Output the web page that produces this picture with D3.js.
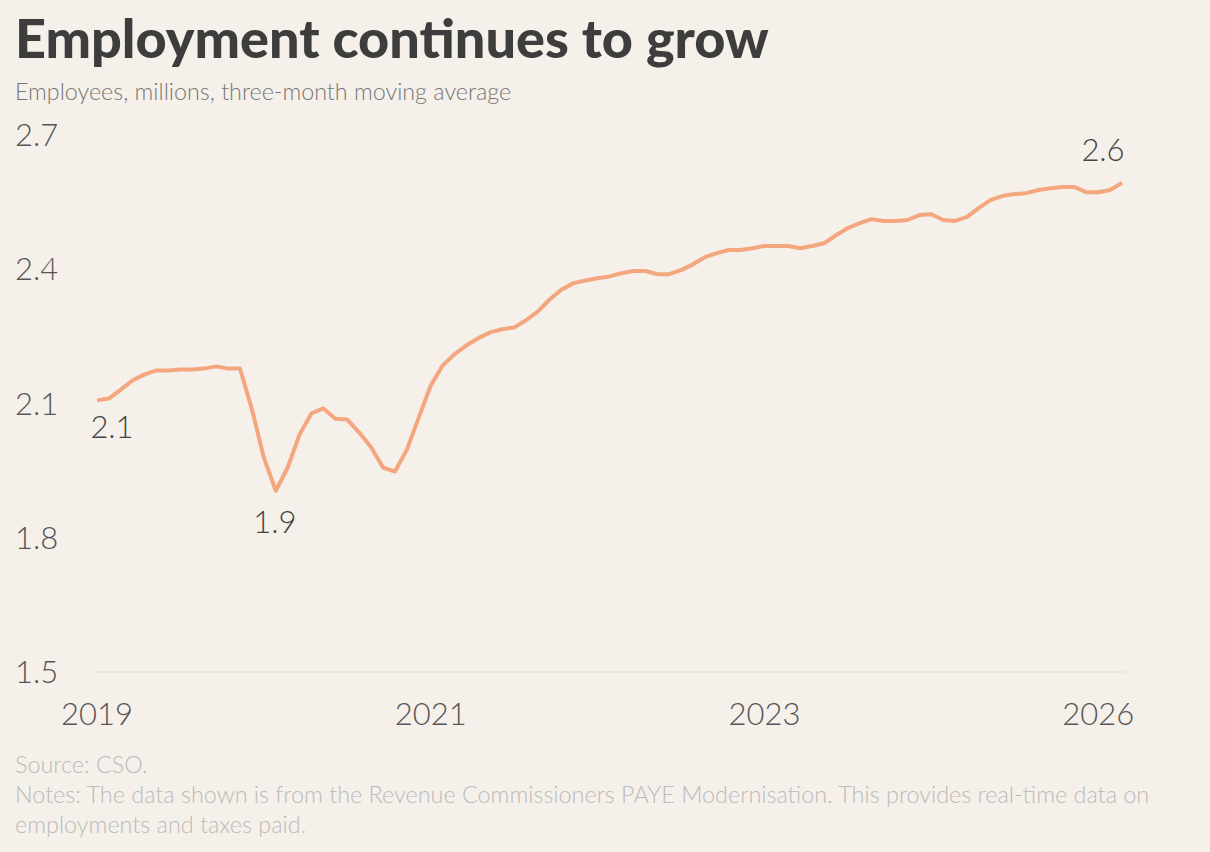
<!DOCTYPE html>
<html><head><meta charset="utf-8">
<script src="https://cdn.jsdelivr.net/npm/d3@7"></script>
<style>body{margin:0;background:#f5f0ea;}svg{display:block;}</style>
</head><body>
<svg id="c" width="1210" height="852"></svg>
<script>
const values = [2.107,2.111,2.131,2.152,2.165,2.174,2.174,2.176,2.176,2.178,2.183,2.178,2.178,2.087,1.979,1.905,1.957,2.031,2.078,2.089,2.066,2.064,2.035,2.002,1.957,1.948,1.997,2.069,2.140,2.185,2.210,2.230,2.246,2.259,2.266,2.270,2.286,2.306,2.333,2.355,2.369,2.375,2.380,2.384,2.391,2.396,2.396,2.389,2.389,2.398,2.411,2.427,2.436,2.443,2.443,2.447,2.452,2.452,2.452,2.447,2.452,2.458,2.476,2.492,2.503,2.512,2.508,2.508,2.510,2.521,2.523,2.510,2.508,2.517,2.537,2.555,2.564,2.568,2.570,2.577,2.581,2.584,2.584,2.572,2.572,2.577,2.593];
const xTickIdx = [0,28,56,84];
const xTickLabels = ["2019","2021","2023","2026"];
const yTicks = [1.5,1.8,2.1,2.4,2.7];
const annotations = [{i:0,label:"2.1",dx:15,dy:28},{i:15,label:"1.9",dx:-1,dy:32},{i:86,label:"2.6",dx:-19,dy:-32}];

const svg = d3.select("#c");
svg.append("rect").attr("width",1210).attr("height",852).attr("fill","#f5f0ea");
const x = d3.scaleLinear().domain([0,values.length-1]).range([97,1122]);
const y = d3.scaleLinear().domain([1.5,2.7]).range([672,135]);
const F = "Lato, 'Open Sans', sans-serif";

svg.append("text").attr("x",15).attr("y",58).attr("font-family",F).attr("font-weight",900)
  .attr("font-size",54).attr("fill","#3d3d3d").text("Employment continues to grow");
svg.append("text").attr("x",15).attr("y",100).attr("font-family",F).attr("font-weight",300)
  .attr("font-size",23.3).attr("fill","#777").text("Employees, millions, three-month moving average");

svg.append("line").attr("x1",95).attr("x2",1125).attr("y1",y(1.5)).attr("y2",y(1.5)).attr("stroke","#ddd").attr("stroke-width",1);

svg.selectAll(".yt").data(yTicks).enter().append("text").attr("x",15).attr("y",d=>y(d)+11)
  .attr("font-family",F).attr("font-weight",300).attr("font-size",31).attr("fill","#555").text(d=>d.toFixed(1));
svg.selectAll(".xt").data(xTickIdx).enter().append("text").attr("x",d=>x(d)).attr("y",725)
  .attr("text-anchor","middle").attr("font-family",F).attr("font-weight",300).attr("font-size",31).attr("fill","#555")
  .text((d,i)=>xTickLabels[i]);

svg.append("path").datum(values).attr("fill","none").attr("stroke","#f4a77e").attr("stroke-width",4)
  .attr("stroke-linejoin","round").attr("d",d3.line().x((d,i)=>x(i)).y(d=>y(d)));

svg.selectAll(".an").data(annotations).enter().append("text").attr("x",d=>x(d.i)+d.dx).attr("y",d=>y(values[d.i])+d.dy+10)
  .attr("text-anchor","middle").attr("font-family",F).attr("font-weight",300).attr("font-size",31).attr("fill","#444").text(d=>d.label);

const notes = ["Source: CSO.","Notes: The data shown is from the Revenue Commissioners PAYE Modernisation. This provides real-time data on","employments and taxes paid."];
svg.selectAll(".nt").data(notes).enter().append("text").attr("x",15).attr("y",(d,i)=>773+i*30)
  .attr("font-family",F).attr("font-weight",300).attr("font-size",23.4).attr("fill","#bbb").text(d=>d);
</script>
</body></html>
